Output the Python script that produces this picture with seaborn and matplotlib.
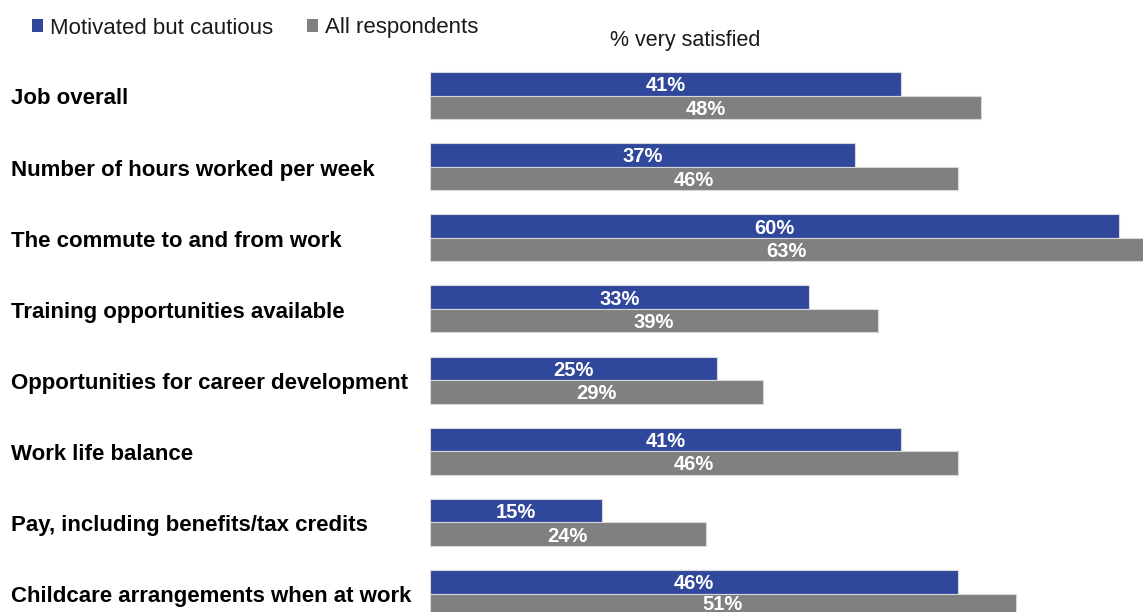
import matplotlib
matplotlib.use("Agg")
import matplotlib.pyplot as plt
from matplotlib.patches import Patch
import seaborn as sns
import pandas as pd

categories = [
    "Job overall",
    "Number of hours worked per week",
    "The commute to and from work",
    "Training opportunities available",
    "Opportunities for career development",
    "Work life balance",
    "Pay, including benefits/tax credits",
    "Childcare arrangements when at work",
]
motivated = [41, 37, 60, 33, 25, 41, 15, 46]
all_resp = [48, 46, 63, 39, 29, 46, 24, 51]
series_names = ["Motivated but cautious", "All respondents"]
colors = ["#30489B", "#808080"]

df = pd.DataFrame({
    "category": categories * 2,
    "value": motivated + all_resp,
    "group": [series_names[0]] * len(categories) + [series_names[1]] * len(categories),
})

sns.set_theme(style="white")
plt.rcParams["font.family"] = ["Liberation Sans", "DejaVu Sans"]

W, H = 1143, 612
fig = plt.figure(figsize=(W / 100, H / 100), dpi=100)
ax = fig.add_axes([430 / W, 0, 713 / W, 552 / H])

sns.barplot(data=df, y="category", x="value", hue="group", order=categories,
            hue_order=series_names, palette=colors, orient="h", width=0.66,
            edgecolor="#d8d8d8", linewidth=0.8, saturation=1, ax=ax, legend=False)

ax.set_xlim(0, 62.1)
ax.set_ylim(7.26, -0.499)
for c in ax.containers:
    texts = ax.bar_label(c, labels=[f"{int(round(v))}%" for v in c.datavalues],
                         label_type="center", color="white", fontweight="bold",
                         fontsize=14.5)
    for t in texts:
        t.set_verticalalignment("center_baseline")

ax.set_xlabel("")
ax.set_ylabel("")
ax.set_xticks([])
ax.set_yticks([])
for s in ax.spines.values():
    s.set_visible(False)

# category names, left aligned at the figure edge
for i, name in enumerate(categories):
    y_pix = 96.5 + i * 71.14
    fig.text(11 / W, 1 - y_pix / H, name, ha="left", va="center_baseline",
             fontsize=16, fontweight="bold", color="black")

fig.text(685 / W, 1 - 38 / H, "% very satisfied", ha="center", va="center_baseline",
         fontsize=15.5, color="#1a1a1a")

handles = [Patch(facecolor=c, edgecolor="none") for c in colors]
fig.legend(handles, series_names, loc="center left",
           bbox_to_anchor=(12 / W, 1 - 28 / H), ncol=2, frameon=False,
           fontsize=16, handlelength=0.5, handleheight=0.5, handletextpad=0.3,
           columnspacing=1.55, labelcolor="#1a1a1a")

fig.savefig("out.png", dpi=100)
